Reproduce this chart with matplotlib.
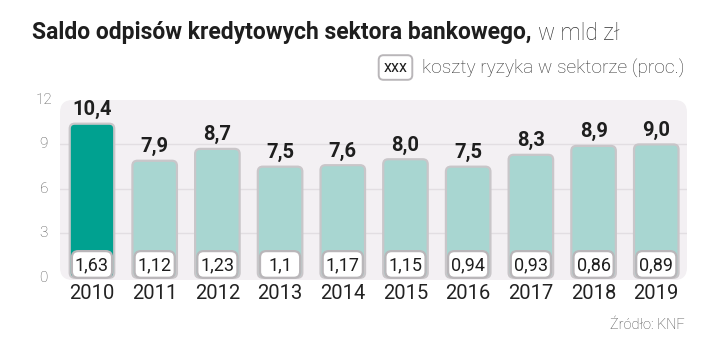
import matplotlib.pyplot as plt
from matplotlib.patches import FancyBboxPatch

years = ['2010', '2011', '2012', '2013', '2014', '2015', '2016', '2017', '2018', '2019']
saldo = [10.4, 7.9, 8.7, 7.5, 7.6, 8.0, 7.5, 8.3, 8.9, 9.0]
saldo_txt = ['10,4', '7,9', '8,7', '7,5', '7,6', '8,0', '7,5', '8,3', '8,9', '9,0']
ryzyko_txt = ['1,63', '1,12', '1,23', '1,1', '1,17', '1,15', '0,94', '0,93', '0,86', '0,89']
yticks = [0, 3, 6, 9, 12]

plt.rcParams['font.family'] = ['Roboto', 'DejaVu Sans']

W, H = 721, 355
fig = plt.figure(figsize=(7.21, 3.55), dpi=100)
ax = fig.add_axes([60 / W, 75 / H, 627 / W, 180 / H])
ax.set_xlim(-0.51, 9.49)
ax.set_ylim(-0.15, 12.0)
for s in ax.spines.values():
    s.set_visible(False)
ax.set_xticks([])
ax.set_yticks([])


def fit(txt, width):
    # dopasuj rozmiar czcionki do szerokosci w pikselach
    fig.canvas.draw()
    w = txt.get_window_extent().width
    txt.set_fontsize(txt.get_fontsize() * width / w)


# tlo panelu
panel = FancyBboxPatch((0, 0), 1, 1, boxstyle='round,pad=0,rounding_size=0.02',
                       transform=ax.transAxes, facecolor='#f3f0f3', edgecolor='none',
                       mutation_aspect=627 / 180, zorder=0)
ax.add_patch(panel)
for t in yticks[1:-1]:
    ax.axhline(t, color='#e2dee2', lw=1, zorder=0.5)

px_x = 62.7
px_y = 14.83
asp = px_x / px_y
bw = 0.71
for i, v in enumerate(saldo):
    col = '#00a190' if i == 0 else '#a8d6d1'
    bar = FancyBboxPatch((i - bw / 2, 0), bw, v, boxstyle='round,pad=0,rounding_size=0.08',
                         facecolor=col, edgecolor='#c9c6c9', lw=1.6, mutation_aspect=asp,
                         zorder=2)
    ax.add_patch(bar)
    ax.text(i, v + 0.3, saldo_txt[i], ha='center', va='bottom', fontsize=14.5,
            fontweight='bold', color='#1e1e1e', zorder=3)
    box = FancyBboxPatch((i - 0.32, 0.0), 0.64, 1.8, boxstyle='round,pad=0,rounding_size=0.1',
                         facecolor='white', edgecolor='#b9b6b9', lw=1.6, mutation_aspect=asp,
                         zorder=3)
    ax.add_patch(box)
    ax.text(i, 0.85, ryzyko_txt[i], ha='center', va='center', fontsize=13,
            color='#1e1e1e', zorder=4)
    ax.text(i, -1.05, years[i], ha='center', va='center', fontsize=14.5,
            color='#222222', clip_on=False)

for t in yticks:
    ax.text(-0.77, t, str(t), ha='center', va='center', fontsize=11,
            color='#555555', fontweight='light')

# tytul
t1 = fig.text(32 / W, 1 - 32 / H, 'Saldo odpisów kredytowych sektora bankowego,',
              fontsize=16, fontweight='bold', color='#1e1e1e', va='center')
fit(t1, 533 - 32)
t2 = fig.text(538 / W, 1 - 33 / H, 'w mld zł', fontsize=16,
              fontweight='light', color='#333333', va='center')
fit(t2, 620 - 538)

# legenda
t3 = fig.text(685 / W, 1 - 69 / H, 'koszty ryzyka w sektorze (proc.)', fontsize=14,
              fontweight='light', color='#333333', va='center', ha='right')
fit(t3, 685 - 423)
fig.text(395.5 / W, 1 - 67.5 / H, 'xxx', fontsize=11.5, color='#1e1e1e', va='center',
         ha='center', bbox=dict(boxstyle='round,pad=0.3,rounding_size=0.3',
                                facecolor='white', edgecolor='#b9b6b9', lw=1.4))

t4 = fig.text(685 / W, 1 - 325 / H, 'Źródło: KNF', fontsize=10.5, fontweight='light',
              color='#444444', va='center', ha='right')
fit(t4, 685 - 610)

fig.savefig('out.png', dpi=100, facecolor='white')
